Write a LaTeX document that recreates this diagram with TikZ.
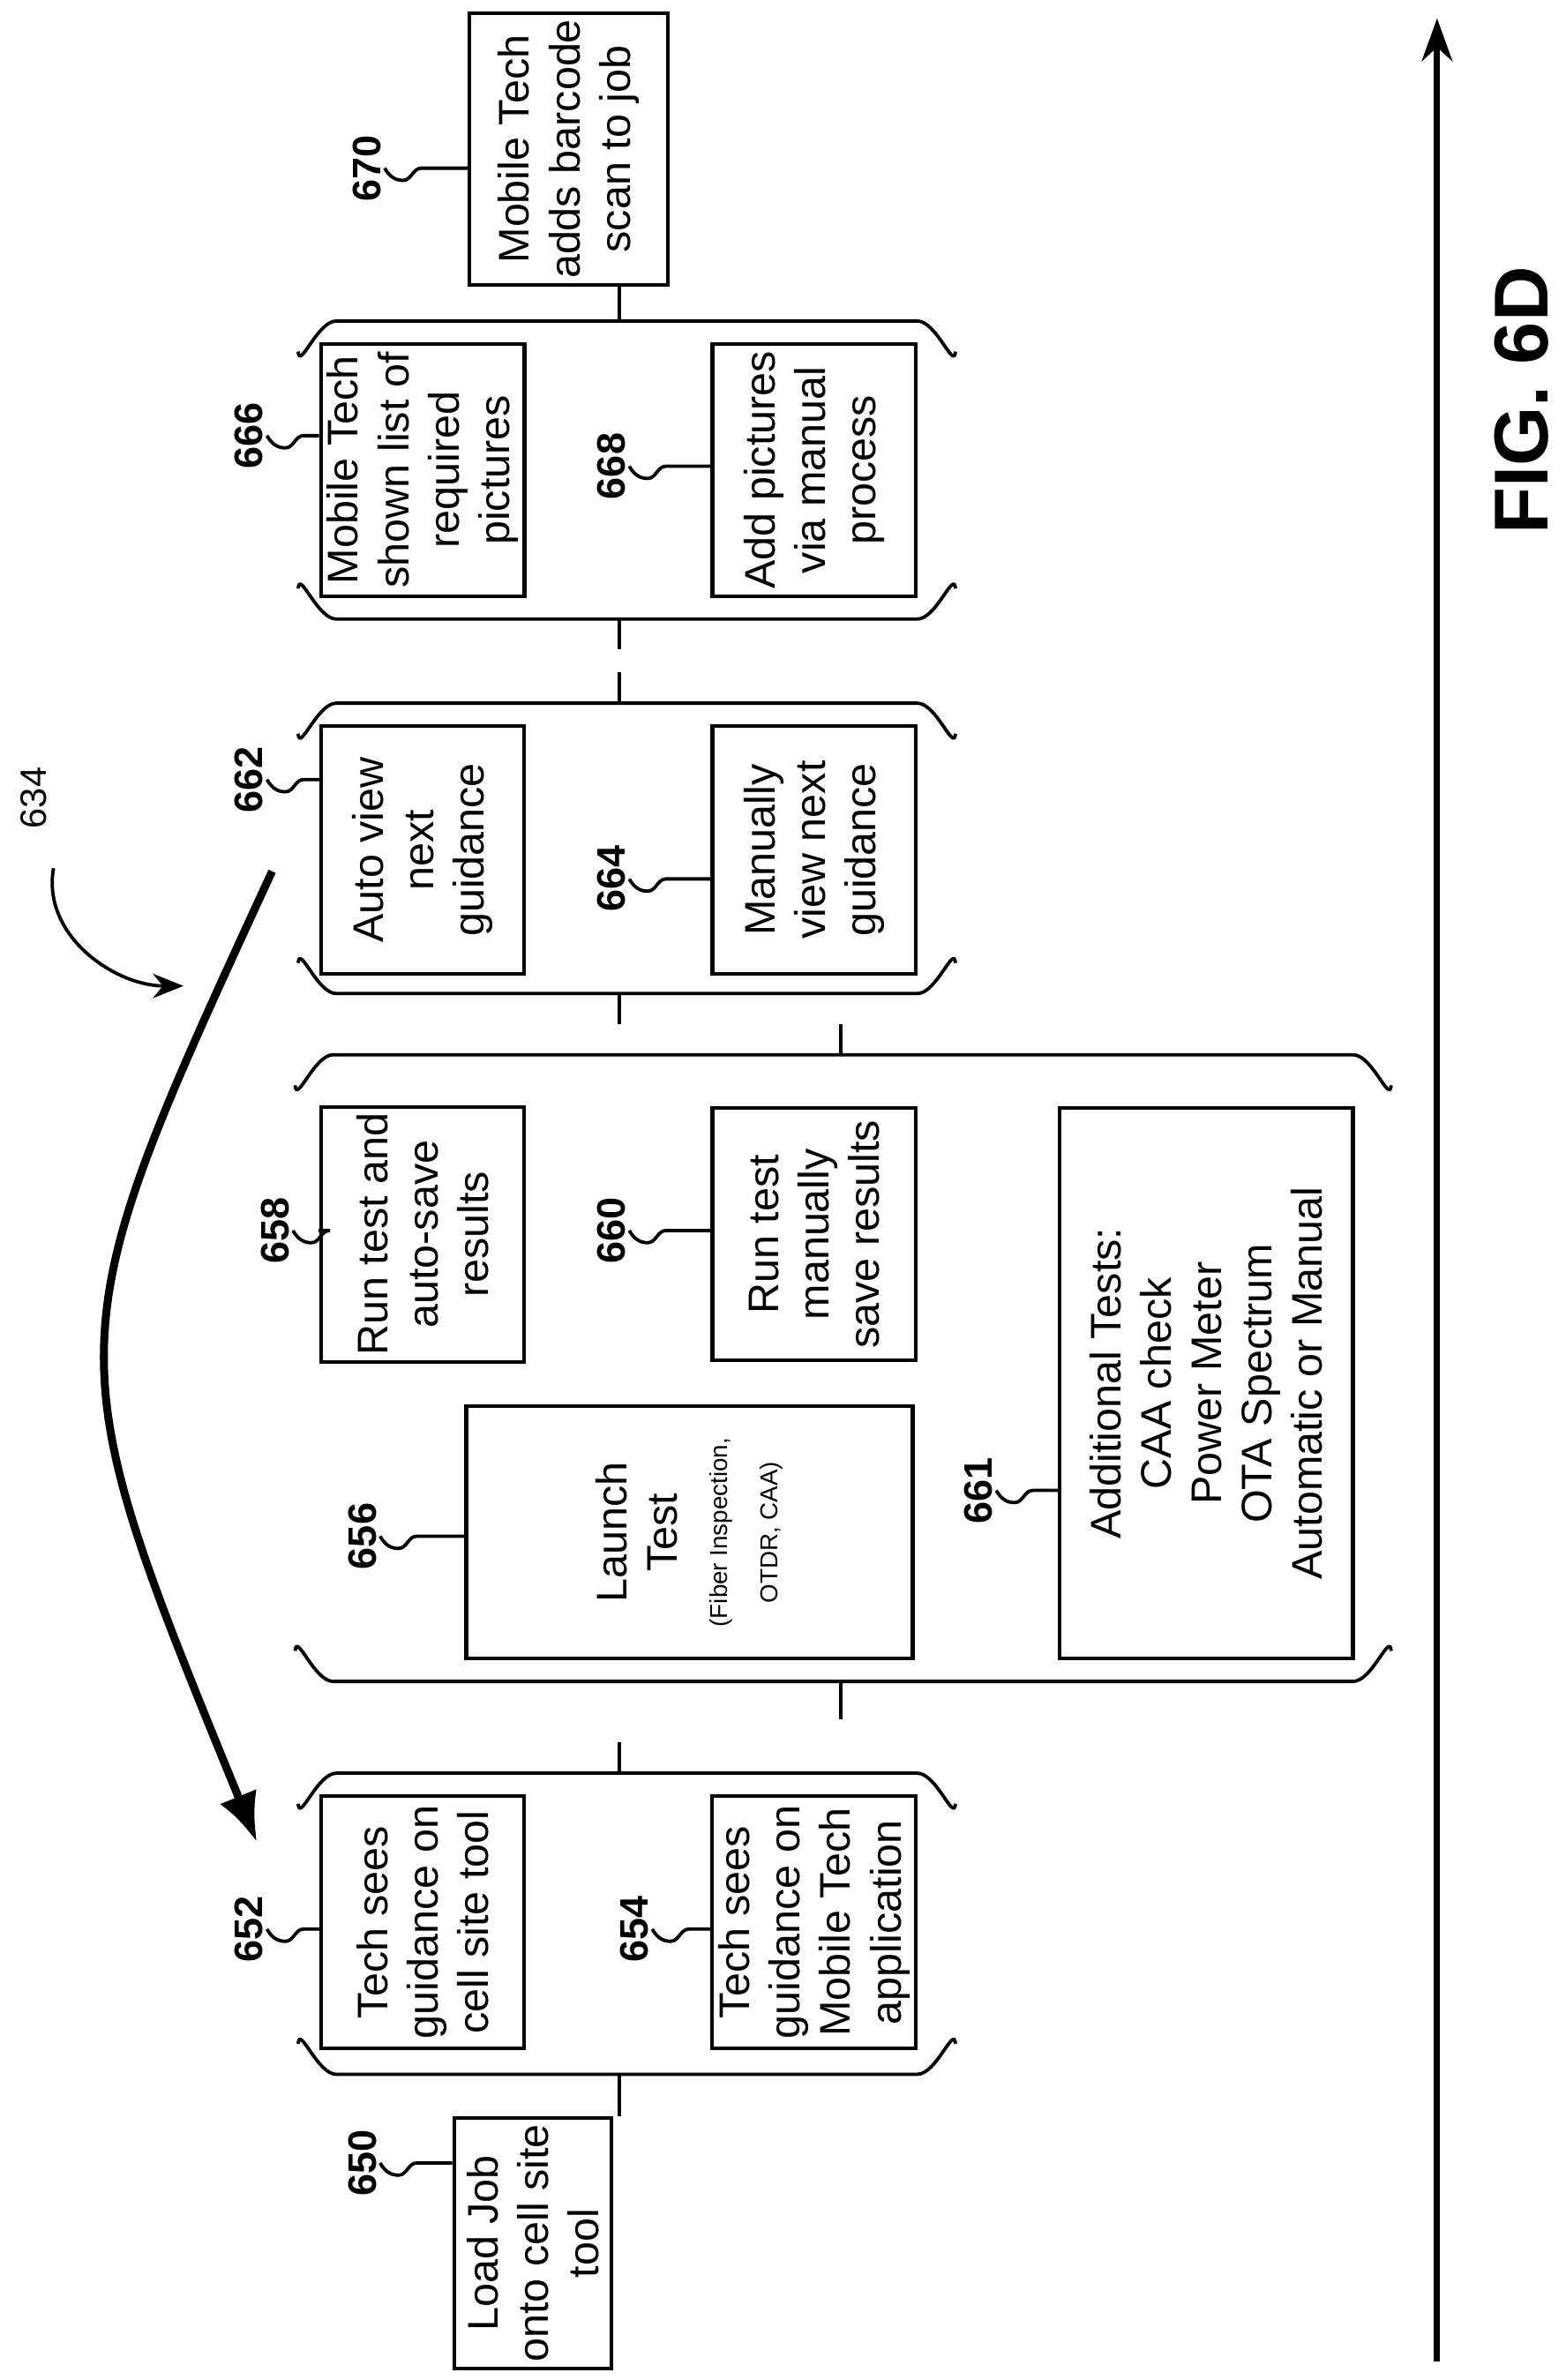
\documentclass[tikz,border=0pt]{standalone}
\usepackage{fontspec}
\setmainfont{Liberation Sans}
\usetikzlibrary{arrows.meta}

\tikzset{
  box/.style={draw, line width=1.2pt, rotate=90, align=center, inner sep=2pt,
    font=\fontsize{14}{16.5}\selectfont},
  num/.style={rotate=90, font=\bfseries\fontsize{13}{15}\selectfont, inner sep=1pt},
  link/.style={line width=1.1pt},
  squig/.style={line width=1.1pt}
}
% label with a squiggle leading to its box
\newcommand{\reflabel}[3]{%
  \node[num] (l#2) at (#1) {#2};
  \draw[squig] (l#2.south) to[out=-60,in=180] ++(12,8) to[out=0,in=180] ++(12,-8)
    to[out=0,in=180] (l#2.south -| #3.north);
}
% bracket pair around a group
\newcommand{\groupbr}[5]{%
  \draw[link] (#1,#3+20) to[out=-85,in=180] (#1+25,#3) -- (#2-25,#3) to[out=0,in=-95] (#2,#3+20);
  \draw[link] (#1,#4-20) to[out=85,in=180] (#1+25,#4) -- (#2-25,#4) to[out=0,in=95] (#2,#4-20);
  \coordinate (#5-top) at (405,#3);
  \coordinate (#5-bot) at (405,#4);
}

\begin{document}
\begin{tikzpicture}[x=0.5pt,y=-0.5pt]
  \useasboundingbox (0,0) rectangle (1024,1557);

  % time axis
  \coordinate (ax0) at (940,1545);
  \coordinate (ax1) at (940,12);
  \draw[line width=2pt, -{Stealth[length=14pt,width=10pt]}] (ax0) -- (ax1);
  \node[rotate=90, font=\bfseries\fontsize{25}{27}\selectfont] (fig) at (995,262) {FIG. 6D};

  % boxes
  \node[box, minimum width=77.5pt, minimum height=51.5pt] (b650) at (348.5,1467.5) {Load Job\\onto cell site\\tool};
  \node[box, minimum width=82.5pt, minimum height=66.5pt] (b652) at (276.5,1257.5) {Tech sees\\guidance on\\cell site tool};
  \node[box, minimum width=82.5pt, minimum height=66.5pt] (b654) at (532.5,1257.5) {Tech sees\\guidance on\\Mobile Tech\\application};
  \node[box, minimum width=82.5pt, minimum height=146pt] (b656) at (451,1002.5)
    {Launch\\Test\\{\fontsize{8}{9}\selectfont(Fiber Inspection,}\\{\fontsize{8}{9}\selectfont OTDR, CAA)}};
  \node[box, minimum width=82.5pt, minimum height=66.5pt] (b658) at (276.5,807.5) {Run test and\\auto-save\\results};
  \node[box, minimum width=82.5pt, minimum height=66.5pt] (b660) at (532.5,807.5) {Run test\\manually\\save results};
  \node[box, minimum width=180pt, minimum height=96pt] (b661) at (789,905)
    {Additional Tests:\\CAA check\\Power Meter\\OTA Spectrum\\Automatic or Manual};
  \node[box, minimum width=81pt, minimum height=66.5pt] (b662) at (276.5,556) {Auto view\\next\\guidance};
  \node[box, minimum width=81pt, minimum height=66.5pt] (b664) at (532.5,556) {Manually\\view next\\guidance};
  \node[box, minimum width=82.5pt, minimum height=66.5pt] (b666) at (276.5,307.5) {Mobile Tech\\shown list of\\required\\pictures};
  \node[box, minimum width=82.5pt, minimum height=66.5pt] (b668) at (532.5,307.5) {Add pictures\\via manual\\process};
  \node[box, minimum width=85.5pt, minimum height=65pt] (b670) at (372,97.5) {Mobile Tech\\adds barcode\\scan to job};

  % groups
  \groupbr{195}{625}{1160}{1357}{gA}
  \groupbr{193}{910}{690}{1100}{gB}
  \groupbr{195}{625}{460}{650}{gC}
  \groupbr{195}{625}{210}{405}{gD}

  % links between stages
  \draw[link] (gA-bot) -- (gA-bot |- b650.east);
  \draw[link] (gA-top) -- ++(0,-20);
  \draw[link] (550,1100) -- (550,1125);
  \draw[link] (550,690) -- (550,670);
  \draw[link] (gC-bot) -- ++(0,20);
  \draw[link] (gC-top) -- ++(0,-20);
  \draw[link] (gD-bot) -- ++(0,20);
  \draw[link] (gD-top) -- (gD-top |- b670.west);

  % reference labels
  \reflabel{237,1415}{650}{b650}
  \reflabel{163,1262}{652}{b652}
  \reflabel{415,1262}{654}{b654}
  \reflabel{237,1005}{656}{b656}
  \reflabel{180,805}{658}{b658}
  \reflabel{400,805}{660}{b660}
  \reflabel{640,975}{661}{b661}
  \reflabel{163,510}{662}{b662}
  \reflabel{400,575}{664}{b664}
  \reflabel{163,285}{666}{b666}
  \reflabel{400,305}{668}{b668}
  \reflabel{240,110}{670}{b670}

  % loop back
  \coordinate (lp0) at (178,570);
  \coordinate (lp1) at (168,1205);
  \draw[line width=2.6pt, -{Latex[length=16pt,width=13pt]}] (lp0) .. controls (35,880) .. (lp1);
  \node[rotate=90, font=\fontsize{12}{14}\selectfont] (l634) at (22,522) {634};
  \coordinate (s634) at (35,568);
  \coordinate (p634) at (120,645);
  \draw[line width=1.1pt, -{Stealth[length=10pt,width=8pt]}] (s634) to[out=-100,in=180] (p634);
\end{tikzpicture}
\end{document}
